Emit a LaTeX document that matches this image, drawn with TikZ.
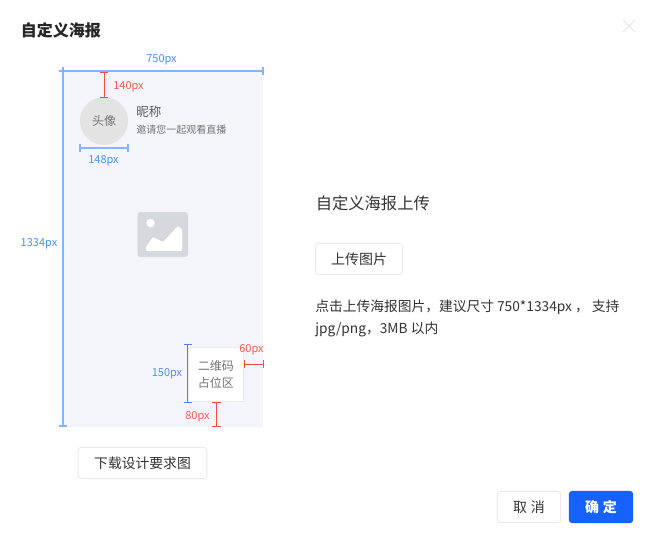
\documentclass[tikz,border=0pt]{standalone}
\usepackage{fontspec}
\setmainfont{Noto Sans CJK SC}
\definecolor{dimblue}{HTML}{85B4FF}
\definecolor{dimblueb}{HTML}{3D86F5}
\definecolor{dimred}{HTML}{FF4A3F}
\definecolor{txtblue}{HTML}{4A90F5}
\definecolor{txtred}{HTML}{FF5A4F}
\definecolor{poster}{HTML}{F4F5FB}
\definecolor{bdr}{HTML}{E8EAEF}
\definecolor{ink}{HTML}{333333}
\definecolor{iconc}{HTML}{D5D8DC}
\definecolor{primary}{HTML}{1661FF}
\newcommand{\fsz}[1]{\fontsize{\dimexpr#1pt*3/4\relax}{\dimexpr#1pt*9/10\relax}\selectfont}
\tikzset{
  x=0.75pt,y=-0.75pt,
  lbl/.style={inner sep=0pt,outer sep=0pt,yshift=-1.1pt,font=\fsz{11}},
  lblblue/.style={lbl,text=txtblue},
  lblred/.style={lbl,text=txtred},
  dimb/.style={draw=dimblue,line width=1.1pt},
  dimbthin/.style={draw=dimblueb,line width=0.75pt},
  dimr/.style={draw=dimred,line width=0.75pt},
  dlgbtn/.style={draw=bdr,fill=white,rounded corners=2.2pt,line width=0.7pt,inner sep=0pt,text=ink,minimum height=23.5pt},
}
\begin{document}
\begin{tikzpicture}
\useasboundingbox (0,0) rectangle (654,539);
\fill[white] (0,0) rectangle (654,539);
% title and close
\node[inner sep=0pt,anchor=west,text=black!85,font=\fsz{16}\bfseries] (title) at (20.5,30) {自定义海报};
\coordinate (xa) at (623,20); \coordinate (xb) at (635,32);
\coordinate (xc) at (635,20); \coordinate (xd) at (623,32);
\draw[draw=bdr,line width=1pt] (xa) -- (xb) (xc) -- (xd);
% poster
\node[fill=poster,inner sep=0pt,minimum width=150pt,minimum height=267pt,anchor=north west] (poster) at (63,71) {};
% top dimension
\coordinate (t1) at (59,71); \coordinate (t2) at (263,71);
\coordinate (t3) at (263,67); \coordinate (t4) at (263,75);
\draw[dimb] (t1) -- (t2); \draw[dimb] (t3) -- (t4);
\node[lblblue] (w750) at (161.5,58) {750px};
% left dimension
\coordinate (l1) at (63,67); \coordinate (l2) at (63,426);
\coordinate (l3) at (59,426); \coordinate (l4) at (67,426);
\draw[dimb] (l1) -- (l2); \draw[dimb] (l3) -- (l4);
\node[lblblue] (h1334) at (39,242) {1334px};
% avatar
\node[circle,fill=black!11,minimum size=36pt,inner sep=0pt,text=black!55,font=\fsz{12}] (avatar) at (104,121) {\raisebox{-1pt}{头像}};
\coordinate (r1) at (104,72); \coordinate (r2) at (104,97);
\coordinate (r1a) at (100,72); \coordinate (r1b) at (108,72);
\coordinate (r2a) at (100,97); \coordinate (r2b) at (108,97);
\draw[dimr] (r1) -- (r2) (r1a) -- (r1b) (r2a) -- (r2b);
\node[lblred] (h140) at (128.5,85.5) {140px};
\coordinate (a1) at (80,148); \coordinate (a2) at (128,148);
\coordinate (a1a) at (80,144); \coordinate (a1b) at (80,152);
\coordinate (a2a) at (128,144); \coordinate (a2b) at (128,152);
\draw[dimb] (a1) -- (a2) (a1a) -- (a1b) (a2a) -- (a2b);
\node[lblblue] (w148) at (103.5,159) {148px};
\node[inner sep=0pt,anchor=west,text=black!65,font=\fsz{12.5}] (nick) at (136,112) {昵称};
\node[inner sep=0pt,anchor=west,text=black!55,font=\fsz{10}] (invite) at (136,130) {邀请您一起观看直播};
% image icon
\fill[iconc,rounded corners=2.2pt] (137.5,212) rectangle (188,257);
\fill[white] (150.5,223) circle[radius=4.2];
\fill[white,rounded corners=0.7pt] (146,251) -- (146,247) -- (153,237) -- (163,242) -- (178,226) -- (182,229.5) -- (182,251) -- cycle;
% QR block
\node[draw=bdr,fill=white,line width=0.6pt,inner sep=0pt,minimum width=41.2pt,minimum height=41.2pt,anchor=north west,align=center,text=black!55,font=\fsz{12}] (qr) at (188,346.5) {二维码\\[2.5pt]占位区};
\coordinate (b1) at (187.5,344); \coordinate (b2) at (187.5,402);
\coordinate (b1a) at (184,344); \coordinate (b1b) at (191.5,344);
\coordinate (b2a) at (184,402); \coordinate (b2b) at (191.5,402);
\draw[dimbthin] (b1) -- (b2) (b1a) -- (b1b) (b2a) -- (b2b);
\node[lblblue] (h150) at (167,372) {150px};
\coordinate (c1) at (244,364); \coordinate (c2) at (263,364);
\coordinate (c1a) at (244,360); \coordinate (c1b) at (244,368);
\coordinate (c2a) at (263,360); \coordinate (c2b) at (263,368);
\draw[dimr] (c1) -- (c2) (c1a) -- (c1b) (c2a) -- (c2b);
\node[lblred] (w60) at (251.5,348) {60px};
\coordinate (d1) at (216.5,402); \coordinate (d2) at (216.5,426.5);
\coordinate (d1a) at (212,402); \coordinate (d1b) at (221,402);
\coordinate (d2a) at (212,426.5); \coordinate (d2b) at (221,426.5);
\draw[dimr] (d1) -- (d2) (d1a) -- (d1b) (d2a) -- (d2b);
\node[lblred] (h80) at (197.5,415) {80px};
% download button
\node[dlgbtn,minimum width=96.5pt,font=\fsz{13.8}] (download) at (142.5,463) {下载设计要求图};
% right column
\node[inner sep=0pt,anchor=west,text=ink,font=\fsz{16.3}] (upt) at (315.5,203.5) {自定义海报上传};
\node[dlgbtn,minimum width=65pt,font=\fsz{14}] (upload) at (359,259) {\raisebox{-0.7pt}{上传图片}};
\node[inner sep=0pt,anchor=west,text=ink,font=\fsz{13.75}] (hint1) at (315,307) {点击上传海报图片，建议尺寸 750*1334px ， 支持};
\node[inner sep=0pt,anchor=west,text=ink,font=\fsz{13.75}] (hint2) at (315,329) {jpg/png，3MB 以内};
% footer buttons
\node[dlgbtn,minimum width=47.5pt,font=\fsz{14}] (cancel) at (529,507) {取\hspace{3pt}消};
\node[dlgbtn,draw=primary,fill=primary,text=white,minimum width=47.5pt,font=\fsz{14}\bfseries] (ok) at (601,507) {确\hspace{3pt}定};
\end{tikzpicture}
\end{document}
